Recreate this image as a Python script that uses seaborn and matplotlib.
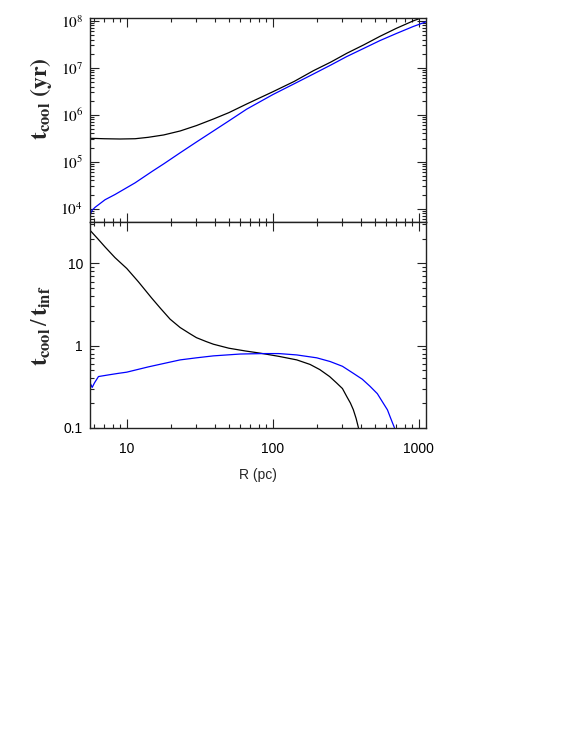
import matplotlib
matplotlib.use("Agg")
import matplotlib.pyplot as plt
import matplotlib.ticker as mticker
import seaborn as sns
import pandas as pd
import numpy as np

# Painel superior: tempo de resfriamento t_cool (yr) em funcao de R (pc)
r_tcool_black = [5.6, 7, 9, 11.4, 14, 17.9, 23.2, 30, 39.2, 50, 66.3, 100,
                 140, 190, 250, 321, 420, 541, 700, 915, 1120]
tcool_black = [3.16e5, 3.09e5, 3.05e5, 3.09e5, 3.31e5, 3.72e5, 4.52e5, 5.89e5,
               8.13e5, 1.11e6, 1.70e6, 3.09e6, 5.13e6, 8.71e6, 1.33e7, 2.04e7,
               3.09e7, 4.68e7, 6.92e7, 1.00e8, 1.26e8]

r_tcool_blue = [5.58, 5.65, 5.8, 6.07, 7.1, 8.3, 11.4, 15, 18, 23.2, 30, 39.2,
                50, 66.3, 100, 140, 190, 250, 321, 420, 541, 700, 915, 1120]
tcool_blue = [5.0e3, 7.9e3, 9.3e3, 1.07e4, 1.55e4, 2.0e4, 3.55e4, 6.3e4, 9.1e4,
              1.55e5, 2.63e5, 4.52e5, 7.4e5, 1.32e6, 2.69e6, 4.57e6, 7.41e6,
              1.15e7, 1.74e7, 2.6e7, 3.8e7, 5.37e7, 7.59e7, 9.55e7]

# Painel inferior: razao t_cool / t_inf
r_ratio_black = [5.6, 6.3, 7.1, 8.3, 10, 12, 14.8, 17, 19.8, 23.2, 27, 30, 35,
                 39.2, 50, 65, 81.8, 110, 146, 180, 210, 245, 274, 300, 321,
                 340, 356, 372, 386]
ratio_black = [25.4, 20.2, 15.9, 11.8, 8.7, 6.0, 3.8, 2.85, 2.1, 1.66, 1.40,
               1.25, 1.12, 1.04, 0.93, 0.86, 0.81, 0.74, 0.67, 0.59, 0.51,
               0.42, 0.35, 0.30, 0.24, 0.20, 0.166, 0.13, 0.10]

r_ratio_blue = [5.6, 5.66, 5.8, 6.0, 6.4, 7.5, 8.8, 10, 14, 19.8, 23.2, 30,
                39.2, 60, 86, 110, 146, 200, 247, 300, 356, 410, 463, 520,
                570, 610, 636, 660, 681]
ratio_blue = [0.26, 0.34, 0.31, 0.35, 0.42, 0.44, 0.46, 0.475, 0.55, 0.63,
              0.67, 0.71, 0.75, 0.79, 0.80, 0.80, 0.77, 0.71, 0.64, 0.56,
              0.46, 0.39, 0.32, 0.26, 0.20, 0.165, 0.136, 0.115, 0.10]

x_ticks = [10, 100, 1000]
x_ticklabels = ["10", "100", "1000"]
top_yticks = [1e4, 1e5, 1e6, 1e7, 1e8]
top_yticklabels = [r"$10^{4}$", r"$10^{5}$", r"$10^{6}$", r"$10^{7}$", r"$10^{8}$"]
bot_yticks = [0.1, 1, 10]
bot_yticklabels = ["0.1", "1", "10"]

sns.set_style("ticks")
plt.rcParams["font.family"] = ["Liberation Sans", "DejaVu Sans"]
plt.rcParams["mathtext.fontset"] = "stix"

fig = plt.figure(figsize=(5.81, 7.47), dpi=100)
ax1 = fig.add_axes([0.1549, 0.7028, 0.5783, 0.2735])
ax2 = fig.add_axes([0.1549, 0.4274, 0.5783, 0.2754])

df_top_k = pd.DataFrame({"R": r_tcool_black, "t": tcool_black})
df_top_b = pd.DataFrame({"R": r_tcool_blue, "t": tcool_blue})
df_bot_k = pd.DataFrame({"R": r_ratio_black, "t": ratio_black})
df_bot_b = pd.DataFrame({"R": r_ratio_blue, "t": ratio_blue})

sns.lineplot(data=df_top_k, x="R", y="t", ax=ax1, color="black", lw=0.9, sort=False)
sns.lineplot(data=df_top_b, x="R", y="t", ax=ax1, color="#0000ff", lw=0.9, sort=False)
sns.lineplot(data=df_bot_k, x="R", y="t", ax=ax2, color="black", lw=0.9, sort=False)
sns.lineplot(data=df_bot_b, x="R", y="t", ax=ax2, color="#0000ff", lw=0.9, sort=False)

for ax in (ax1, ax2):
    ax.set_xscale("log")
    ax.set_yscale("log")
    ax.set_xlim(5.6, 1120)
    ax.set_xticks(x_ticks)
    ax.xaxis.set_minor_formatter(mticker.NullFormatter())
    ax.yaxis.set_minor_formatter(mticker.NullFormatter())
    ax.tick_params(which="both", direction="in", top=True, right=True,
                   color="#222222", width=0.8, labelcolor="black")
    ax.tick_params(which="major", length=6.5)
    ax.tick_params(which="minor", length=3.2)
    ax.tick_params(axis="y", pad=5)
    ax.tick_params(axis="x", pad=10)
    for sp in ax.spines.values():
        sp.set_linewidth(1.0)
        sp.set_color("#222222")
    ax.set_xlabel("")
    ax.set_ylabel("")

# Ajustes do painel superior
ax1.set_ylim(5.2e3, 1.17e8)
ax1.set_yticks(top_yticks)
ax1.set_yticklabels(top_yticklabels, fontsize=11)
ax1.tick_params(labelbottom=False)

# Ajustes do painel inferior
ax2.set_ylim(0.1, 32)
ax2.set_yticks(bot_yticks)
ax2.set_yticklabels(bot_yticklabels, fontsize=10)
ax2.set_xticklabels(x_ticklabels, fontsize=10)
ax2.set_xlabel("R (pc)", fontsize=10, labelpad=9)

fig.text(0.0706, 0.8675, r"$\mathbf{t_{cool}\ (yr)}$", rotation=90,
         ha="center", va="center", fontsize=17)
fig.text(0.0706, 0.564, r"$\mathbf{t_{cool}}\,/\,\mathbf{t_{inf}}$", rotation=90,
         ha="center", va="center", fontsize=17)

fig.savefig("out.png", dpi=100)
